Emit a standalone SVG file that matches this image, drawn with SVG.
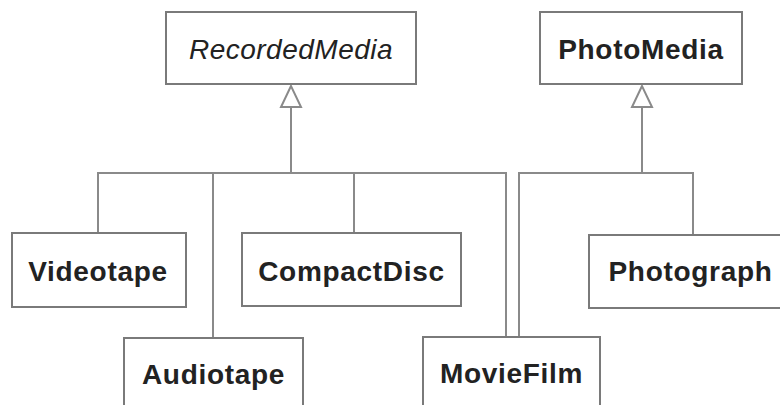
<svg xmlns="http://www.w3.org/2000/svg" width="780" height="405" viewBox="0 0 780 405">
<defs>
<style>
.box{fill:#fff;stroke:#7a7a7a;stroke-width:2}
.lbl{font-family:"Liberation Sans",Arial,sans-serif;font-size:28px;font-weight:bold;fill:#222;text-anchor:middle;letter-spacing:0.7px}
.abs{font-weight:normal;font-style:italic;letter-spacing:0.5px}
.con{fill:none;stroke:#8a8a8a;stroke-width:2}
.tri{fill:#fff;stroke:#8a8a8a;stroke-width:2}
</style>
</defs>
<rect width="780" height="405" fill="#fff"/>
<g id="connectors">
<path class="con" d="M291,107 V173 M98,233 V173 H506 V337 M213,173 V338 M354,173 V233"/>
<path class="con" d="M642,107 V173 M519,337 V173 H693 V235"/>
<polygon class="tri" points="291,86 281,107 301,107"/>
<polygon class="tri" points="642,86 632,107 652,107"/>
</g>
<g id="RecordedMedia">
<rect class="box" x="166" y="12" width="250" height="72"/>
<text class="lbl abs" x="291" y="59">RecordedMedia</text>
</g>
<g id="PhotoMedia">
<rect class="box" x="540" y="12" width="202" height="72"/>
<text class="lbl" x="641" y="59">PhotoMedia</text>
</g>
<g id="Videotape">
<rect class="box" x="12" y="233" width="174" height="74"/>
<text class="lbl" x="98" y="281">Videotape</text>
</g>
<g id="CompactDisc">
<rect class="box" x="242" y="233" width="219" height="73"/>
<text class="lbl" x="351.5" y="281">CompactDisc</text>
</g>
<g id="Photograph">
<rect class="box" x="589" y="235" width="210" height="73"/>
<text class="lbl" x="690.5" y="281">Photograph</text>
</g>
<g id="Audiotape">
<rect class="box" x="124" y="338" width="179" height="80"/>
<text class="lbl" x="213.5" y="384">Audiotape</text>
</g>
<g id="MovieFilm">
<rect class="box" x="423" y="337" width="177" height="80"/>
<text class="lbl" x="511.5" y="383">MovieFilm</text>
</g>
</svg>
